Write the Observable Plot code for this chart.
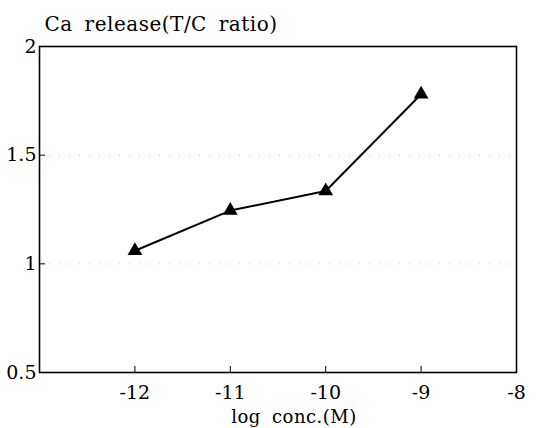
<!DOCTYPE html>
<html>
<head>
<meta charset="utf-8">
<script src="https://cdn.jsdelivr.net/npm/d3@7"></script>
<script src="https://cdn.jsdelivr.net/npm/@observablehq/plot@0.6"></script>
<style>
  body { margin: 0; background: #fff; }
  #chart svg { font-family: "DejaVu Serif", serif; }
  #chart svg g[aria-label="text"] text { letter-spacing: 0.5px; word-spacing: 5px; }
</style>
</head>
<body>
<div id="chart"></div>
<script>
const logConc = [-12, -11, -10, -9];
const caRelease = [1.06, 1.245, 1.335, 1.78];
const xTicks = [-12, -11, -10, -9, -8];
const yTicks = [0.5, 1, 1.5, 2];
const gridTicks = [1, 1.5];
const title = "Ca release(T/C ratio)";
const xLabel = "log conc.(M)";

const data = logConc.map((x, i) => ({x, y: caRelease[i]}));

const chart = Plot.plot({
  width: 543,
  height: 428,
  marginLeft: 39,
  marginRight: 27,
  marginTop: 46,
  marginBottom: 56,
  style: {fontFamily: "'DejaVu Serif', serif", fontSize: "19px", color: "#000", background: "#fff"},
  x: {domain: [-13, -8]},
  y: {domain: [0.5, 2]},
  marks: [
    Plot.gridY(gridTicks, {stroke: "#999", strokeOpacity: 0.6, strokeDasharray: "1,9"}),
    Plot.frame({stroke: "#000", strokeWidth: 1.6}),
    Plot.axisX(xTicks, {tickSize: -6, tickPadding: 19, label: null, fontSize: 19, tickFormat: d => String(d)}),
    Plot.axisY(yTicks, {tickSize: -6, tickPadding: 9, label: null, fontSize: 19, tickFormat: d => String(d)}),
    Plot.line(data, {x: "x", y: "y", stroke: "#000", strokeWidth: 2}),
    Plot.dot(data, {x: "x", y: "y", symbol: "triangle", r: 5.5, fill: "#000"}),
    Plot.text([title], {frameAnchor: "top-left", text: d => d, textAnchor: "start", lineAnchor: "bottom", dx: 5, dy: -16, fontSize: 20}),
    Plot.text([xLabel], {frameAnchor: "bottom", text: d => d, textAnchor: "middle", lineAnchor: "bottom", dx: 16, dy: 50, fontSize: 18})
  ]
});
document.getElementById("chart").appendChild(chart);
</script>
</body>
</html>
